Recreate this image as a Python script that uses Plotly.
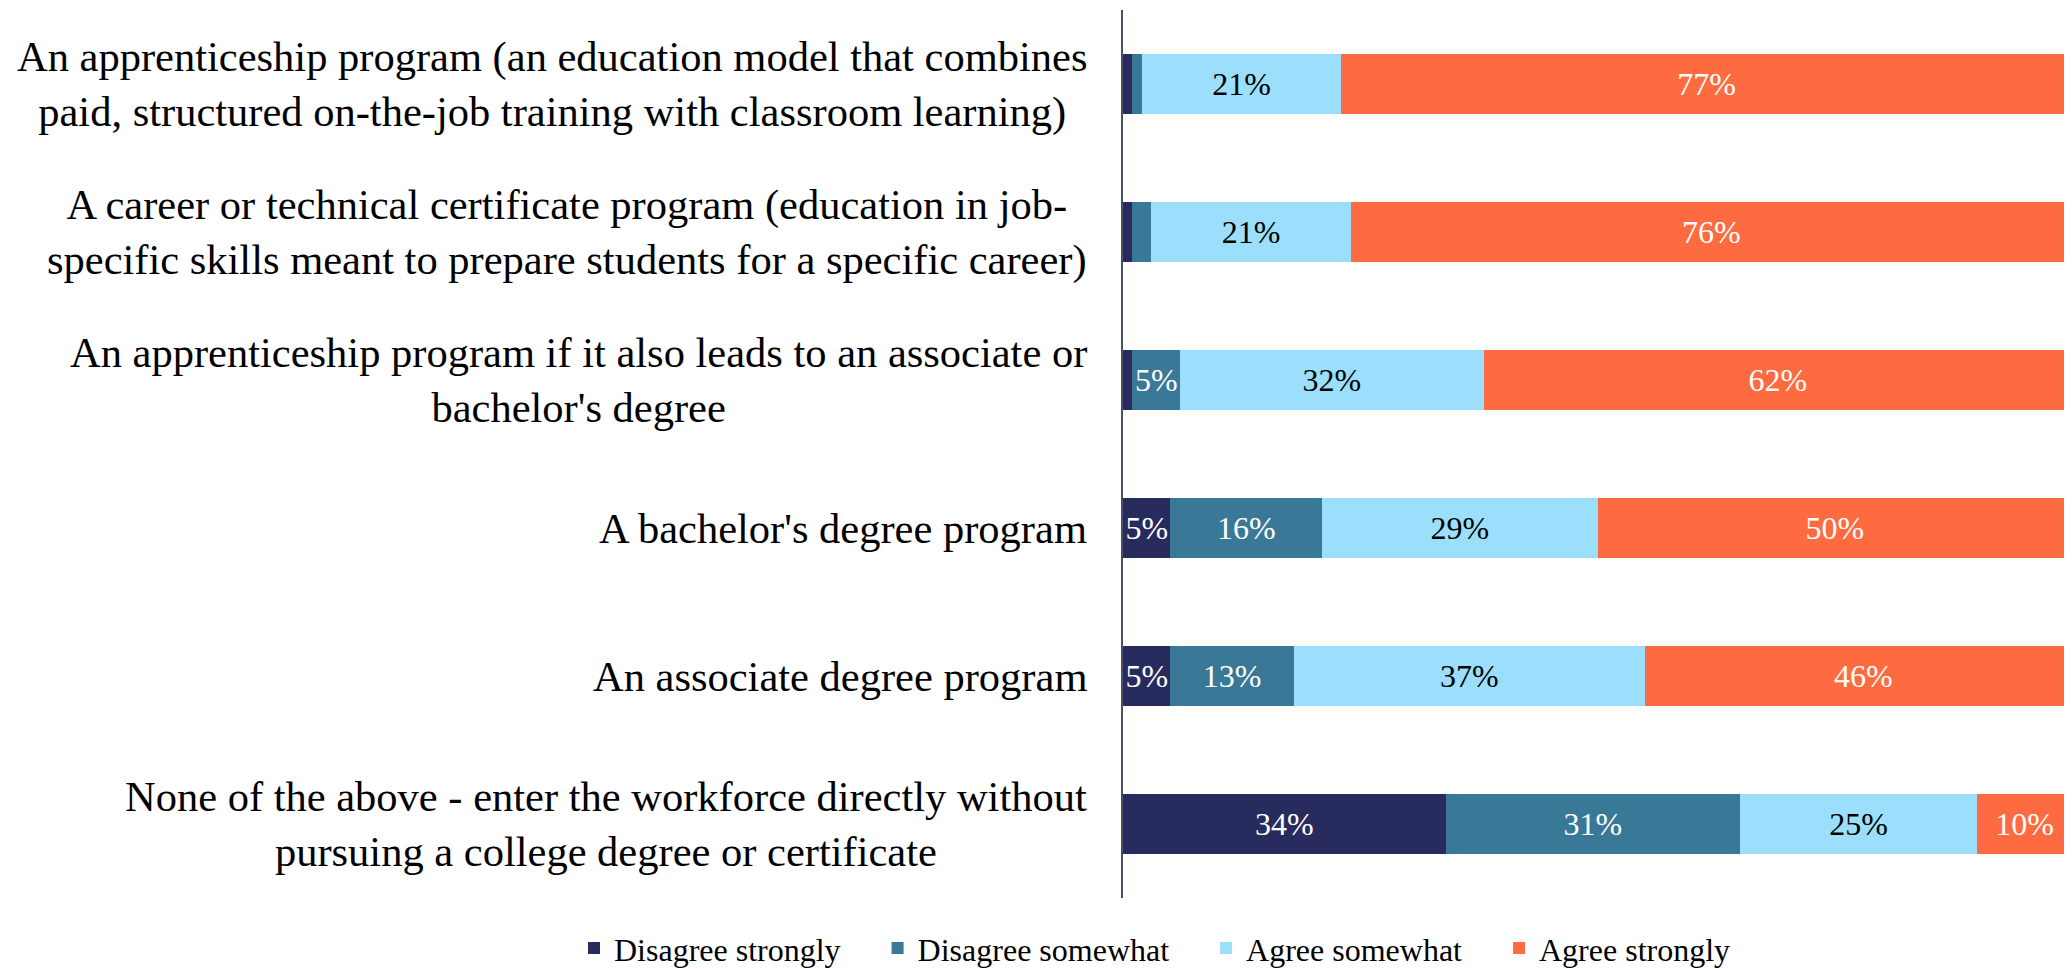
import plotly.graph_objects as go

# survey rows, top to bottom (each label split into its printed lines)
label_lines = [
    ["An apprenticeship program (an education model that combines",
     "paid, structured on-the-job training with classroom learning)"],
    ["A career or technical certificate program (education in job-",
     "specific skills meant to prepare students for a specific career)"],
    ["An apprenticeship program if it also leads to an associate or",
     "bachelor's degree"],
    ["A bachelor's degree program"],
    ["An associate degree program"],
    ["None of the above - enter the workforce directly without",
     "pursuing a college degree or certificate"],
]
series_names = ["Disagree strongly", "Disagree somewhat", "Agree somewhat", "Agree strongly"]
disagree_strongly = [1, 1, 1, 5, 5, 34]
disagree_somewhat = [1, 2, 5, 16, 13, 31]
agree_somewhat = [21, 21, 32, 29, 37, 25]
agree_strongly = [77, 76, 62, 50, 46, 10]

categories = [" ".join(lines) for lines in label_lines]
series_values = [disagree_strongly, disagree_somewhat, agree_somewhat, agree_strongly]
colors = ["#272B5D", "#397896", "#9BDFFC", "#FF6B40"]
text_colors = ["white", "white", "black", "white"]

FONT = "Liberation Serif, Times New Roman, serif"
LEGEND_PAD = "\u00a0" * 4  # extra room between legend entries

fig = go.Figure()
for name, vals, col, tcol in zip(series_names, series_values, colors, text_colors):
    fig.add_trace(
        go.Bar(
            y=categories,
            x=vals,
            name=name + LEGEND_PAD,
            orientation="h",
            marker=dict(color=col, line=dict(width=0)),
            text=[f"{v}%" if v >= 3 else "" for v in vals],
            textposition="inside",
            insidetextanchor="middle",
            textangle=0,
            constraintext="none",
            textfont=dict(family=FONT, size=32, color=tcol),
            hoverinfo="skip",
        )
    )

# category labels as annotations: lines centred on each other, block right-aligned
annotations = []
for cat, lines in zip(categories, label_lines):
    annotations.append(dict(
        x=0, xref="paper", y=cat, yref="y",
        text="<br>".join(lines), showarrow=False,
        xanchor="right", yanchor="middle", align="center",
        xshift=-34, font=dict(family=FONT, size=42.5, color="black"),
    ))

# page body adds an 8px offset, so the figure is 8px smaller than the window
fig.update_layout(
    width=2064,
    height=961,
    barmode="stack",
    bargap=0.6,
    plot_bgcolor="white",
    paper_bgcolor="white",
    margin=dict(l=1115, r=0, t=2, b=71, autoexpand=False),
    xaxis=dict(visible=False, range=[0, 100], fixedrange=True),
    yaxis=dict(
        autorange="reversed",
        showticklabels=False,
        showgrid=False,
        ticks="",
        showline=True,
        linecolor="#4A4E69",
        linewidth=2,
        zeroline=False,
    ),
    # anchored left of the plot area and below it so the entries stay on one row
    legend=dict(
        orientation="h",
        xref="paper",
        yref="paper",
        x=-0.5785,
        y=-0.0566,
        xanchor="left",
        yanchor="middle",
        font=dict(family=FONT, size=32, color="black"),
        traceorder="normal",
        bgcolor="rgba(0,0,0,0)",
    ),
    annotations=annotations,
    showlegend=True,
)

fig.write_html("out.html")
